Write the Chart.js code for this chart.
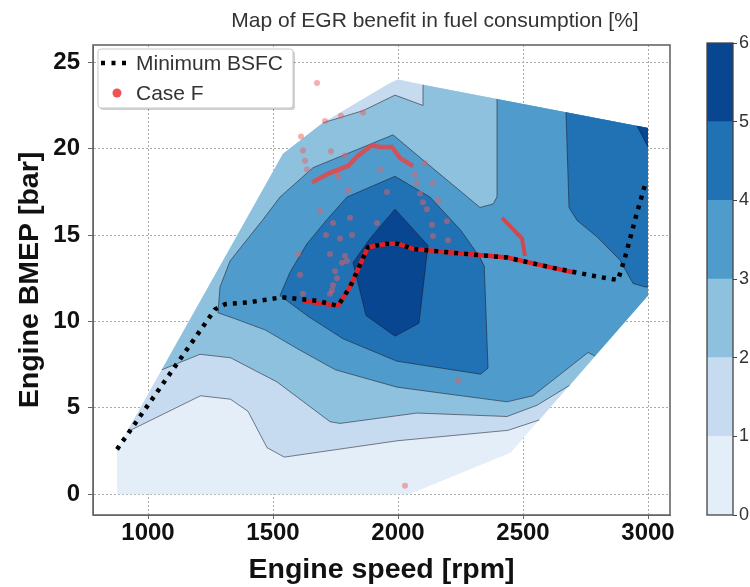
<!DOCTYPE html>
<html>
<head>
<meta charset="utf-8">
<script src="https://cdn.jsdelivr.net/npm/chart.js@4.4.1/dist/chart.umd.min.js"></script>
<style>
  body { margin: 0; background: #fff; }
  #wrap { position: relative; width: 750px; height: 587px; overflow: hidden; }
  #mapChart { position: absolute; left: 0; top: 0; }
  #cbarChart { position: absolute; left: 690px; top: 0; }
</style>
</head>
<body>
<div id="wrap">
  <canvas id="mapChart" width="690" height="587"></canvas>
  <canvas id="cbarChart" width="60" height="587"></canvas>
</div>
<script>
// Axis ticks
const speedTicks = [1000, 1500, 2000, 2500, 3000];
const bmepTicks = [0, 5, 10, 15, 20, 25];
const benefitLevels = [0, 1, 2, 3, 4, 5, 6];

// Outline of the mapped area, [rpm, bar]
const mapHull = [[876, 0], [876, 2.6], [1540, 19.7], [1700, 21.5], [1968, 23.8], [2000, 24.0],
  [2100, 23.7], [3000, 21.2], [3000, 11.5], [2450, 2.4], [2045, 0]];

// Contour boundaries, [rpm, bar]
const contour1 = [[915, 3.6], [1210, 5.7], [1330, 5.5], [1400, 4.8], [1476, 2.7], [1545, 2.15],
  [2000, 3.1], [2440, 3.7], [2565, 4.3]];
const contour2 = [[1055, 7.2], [1208, 8.1], [1330, 7.9], [1516, 6.5], [1728, 4.2], [1768, 4.1],
  [2076, 4.7], [2436, 4.5], [2556, 5.15], [2686, 6.3]];
const contour2Top = [[1700, 21.5], [1860, 22.2], [1988, 23.1], [2100, 22.5], [2100, 23.7]];
const contour3 = [[2396, 22.88], [2396, 17.2], [2380, 16.8], [2328, 16.6], [2116, 19.15], [1980, 20.8],
  [1660, 18.9], [1528, 17.2], [1460, 15.9], [1328, 13.5], [1288, 12.0], [1280, 10.5], [1340, 10.2],
  [1470, 9.5], [1600, 8.4], [1750, 7.2], [1996, 6.2], [2200, 5.8], [2436, 5.35], [2540, 5.7],
  [2760, 8.2], [2788, 8.0]];
const contour4Center = [[1528, 11.5], [1568, 12.85], [1636, 14.5], [1716, 15.9], [1796, 17.2],
  [1988, 18.4], [2128, 17.2], [2250, 15.3], [2328, 13.7], [2345, 13.2], [2360, 7.3], [2330, 6.95],
  [1996, 7.7], [1780, 9.0], [1640, 10.3]];
const contour4Right = [[2672, 22.11], [2684, 16.6], [2716, 15.85], [2796, 14.9], [2888, 13.55],
  [2940, 12.2], [2988, 12.0], [3000, 12.0]];
const contour5Center = [[1988, 16.5], [2120, 14.4], [2084, 9.9], [1988, 9.15], [1872, 10.35],
  [1820, 13.4], [1888, 14.8]];
const contour5Corner = [[2956, 21.32], [3000, 20.1]];

// Minimum BSFC line
const bsfcLine = [[876, 2.6], [1268, 10.7], [1308, 11.0], [1400, 11.1], [1536, 11.4], [1676, 11.2],
  [1760, 10.9], [1808, 12.0], [1880, 14.3], [1956, 14.5], [2000, 14.5], [2060, 14.2], [2200, 14.0],
  [2436, 13.7], [2620, 13.1], [2796, 12.6], [2880, 12.4], [2908, 13.7], [2956, 16.3], [2990, 18.0]];

// Case F operating points
const caseFAlongBsfc = [[1620, 11.2], [1760, 10.9], [1808, 12.0], [1880, 14.3], [1956, 14.5],
  [2000, 14.5], [2060, 14.2], [2200, 14.0], [2436, 13.7], [2620, 13.1], [2700, 12.85]];
const caseFUpperArc = [[1656, 18.05], [1728, 18.6], [1800, 19.0], [1840, 19.6], [1896, 20.2],
  [1928, 20.1], [1976, 20.1], [2008, 19.45], [2060, 19.0]];
const caseFRightArc = [[2416, 16.0], [2456, 15.4], [2496, 14.8], [2508, 13.8]];
const caseFPoints = [[1676, 23.8], [1708, 21.6], [1772, 21.9], [1860, 22.1], [1612, 20.7], [1620, 19.9],
  [1732, 19.85], [1628, 19.3], [1636, 18.8], [1760, 18.35], [1788, 19.6], [1928, 18.8], [2108, 19.15],
  [2068, 18.5], [2076, 18.0], [2088, 17.4], [2100, 16.9], [2116, 16.5], [2140, 18.0], [1800, 17.6],
  [1956, 17.5], [2160, 17.0], [1688, 16.4], [1808, 16.0], [1916, 15.7], [2136, 15.6], [2196, 15.8],
  [1712, 15.0], [1816, 15.0], [2140, 14.95], [2200, 14.7], [1740, 15.7], [1768, 14.8], [1600, 13.9],
  [1728, 13.9], [1788, 13.8], [1796, 13.5], [1748, 12.9], [1608, 12.7], [1756, 12.5], [1740, 12.1],
  [1736, 11.8], [1728, 11.6], [1620, 11.6], [1776, 13.4], [1756, 18.6], [2240, 6.6], [2028, 0.5]];

// Blues colormap, one colour per level band
const bandColors = ['#e3eef9', '#c6dbef', '#8dc1dd', '#4f9bcb', '#2171b5', '#084691'];

// Filled regions: everything at or above each level
const hullTopLeft = mapHull.slice(2, 9).reverse();
const regionsByBand = [
  [mapHull],
  [[...contour1, ...hullTopLeft]],
  [[...contour2, mapHull[8], mapHull[7], mapHull[6], ...contour2Top.slice().reverse(), mapHull[2]]],
  [[...contour3, mapHull[8], mapHull[7]]],
  [contour4Center, [...contour4Right, mapHull[7]]],
  [contour5Center, [...contour5Corner, mapHull[7]]]
];
const openContours = [contour1, contour2, contour2Top, contour3, contour4Right, contour5Corner];
const closedContours = [contour4Center, contour5Center];

const toXY = pts => pts.map(([x, y]) => ({ x, y }));
const FONT = '"Liberation Sans", Arial, sans-serif';

// Filled contour map drawn under the datasets
const contourFill = {
  id: 'contourFill',
  beforeDatasetsDraw(chart) {
    const { ctx, chartArea: a, scales: { x, y } } = chart;
    const trace = (pts, close) => {
      ctx.beginPath();
      pts.forEach(([r, b], i) => {
        const px = x.getPixelForValue(r), py = y.getPixelForValue(b);
        if (i) ctx.lineTo(px, py); else ctx.moveTo(px, py);
      });
      if (close) ctx.closePath();
    };
    ctx.save();
    ctx.beginPath();
    ctx.rect(a.left, a.top, a.right - a.left, a.bottom - a.top);
    ctx.clip();
    regionsByBand.forEach((polys, i) => {
      ctx.fillStyle = bandColors[i];
      polys.forEach(p => { trace(p, true); ctx.fill(); });
    });
    ctx.strokeStyle = 'rgba(25,25,35,0.6)';
    ctx.lineWidth = 0.9;
    openContours.forEach(l => { trace(l, false); ctx.stroke(); });
    closedContours.forEach(l => { trace(l, true); ctx.stroke(); });
    ctx.restore();
  }
};

// Box round the plotting area
const frame = {
  id: 'frame',
  afterDraw(chart, args, opts) {
    const { ctx, chartArea: a } = chart;
    ctx.save();
    ctx.strokeStyle = opts.color || '#666';
    ctx.lineWidth = opts.width || 1.5;
    ctx.strokeRect(a.left, a.top, a.right - a.left, a.bottom - a.top);
    ctx.restore();
  }
};

// Title and boxed legend in the upper left corner
const titleAndLegend = {
  id: 'titleAndLegend',
  afterDraw(chart) {
    const { ctx } = chart;
    ctx.save();
    ctx.font = '21px ' + FONT;
    ctx.fillStyle = '#333';
    ctx.textAlign = 'center';
    ctx.textBaseline = 'middle';
    ctx.fillText('Map of EGR benefit in fuel consumption [%]', 435, 21);

    // legend box with a soft shadow
    ctx.fillStyle = 'rgba(0,0,0,0.18)';
    ctx.beginPath(); ctx.roundRect(100, 51, 195, 59, 3); ctx.fill();
    ctx.fillStyle = '#fff';
    ctx.strokeStyle = '#c8c8c8';
    ctx.lineWidth = 1;
    ctx.beginPath(); ctx.roundRect(98, 49, 195, 59, 3); ctx.fill(); ctx.stroke();

    ctx.strokeStyle = '#000';
    ctx.lineWidth = 4.5;
    ctx.setLineDash([4, 6.5]);
    ctx.beginPath(); ctx.moveTo(101, 63); ctx.lineTo(132, 63); ctx.stroke();
    ctx.setLineDash([]);
    ctx.fillStyle = '#f05353';
    ctx.beginPath(); ctx.arc(117, 93, 4.5, 0, Math.PI * 2); ctx.fill();

    ctx.font = '21px ' + FONT;
    ctx.fillStyle = '#333';
    ctx.textAlign = 'left';
    ctx.fillText('Minimum BSFC', 136, 64);
    ctx.fillText('Case F', 136, 94);
    ctx.restore();
  }
};

new Chart(document.getElementById('mapChart'), {
  type: 'scatter',
  data: {
    datasets: [
      { label: 'Minimum BSFC', data: toXY(bsfcLine), showLine: true, borderColor: '#000',
        borderWidth: 4.5, borderDash: [4, 6], borderCapStyle: 'butt', pointRadius: 0, order: 0 },
      { label: 'Case F', data: toXY(caseFAlongBsfc), showLine: true, borderColor: 'rgba(240,30,30,0.95)',
        borderWidth: 4.5, pointRadius: 0, order: 1 },
      { label: 'Case F', data: toXY(caseFUpperArc), showLine: true, borderColor: 'rgba(228,70,70,0.85)',
        borderWidth: 4.5, pointRadius: 0, order: 1 },
      { label: 'Case F', data: toXY(caseFRightArc), showLine: true, borderColor: 'rgba(228,60,60,0.85)',
        borderWidth: 4, pointRadius: 0, order: 1 },
      { label: 'Case F', data: toXY(caseFPoints), backgroundColor: 'rgba(235,95,95,0.5)',
        borderWidth: 0, pointRadius: 3, order: 2 }
    ]
  },
  options: {
    responsive: false,
    animation: false,
    layout: { padding: { top: 45, right: 20, left: 0, bottom: 0 } },
    plugins: { legend: { display: false }, tooltip: { enabled: false }, frame: { color: '#666', width: 1.6 } },
    scales: {
      x: {
        type: 'linear', min: 780, max: 3088,
        afterBuildTicks: s => { s.ticks = speedTicks.map(v => ({ value: v })); },
        afterFit: s => { s.height = 72; },
        grid: { color: '#a8a8a8', lineWidth: 1, tickLength: 4, tickColor: '#666' },
        border: { dash: [2, 2], color: '#666' },
        ticks: { font: { family: FONT, size: 24, weight: 'bold' }, color: '#111', padding: 0,
          callback: v => String(v) },
        title: { display: true, text: 'Engine speed [rpm]', color: '#111',
          font: { family: FONT, size: 28.5, weight: 'bold' }, padding: { top: 0, bottom: 0 } }
      },
      y: {
        type: 'linear', min: -1.2, max: 26.0,
        afterBuildTicks: s => { s.ticks = bmepTicks.map(v => ({ value: v })); },
        afterFit: s => { s.width = 93; },
        grid: { color: '#a8a8a8', lineWidth: 1, tickLength: 5, tickColor: '#666' },
        border: { dash: [2, 2], color: '#666' },
        ticks: { font: { family: FONT, size: 24, weight: 'bold' }, color: '#111', padding: 8,
          callback: v => String(v) },
        title: { display: true, text: 'Engine BMEP [bar]', color: '#111',
          font: { family: FONT, size: 28.5, weight: 'bold' }, padding: { top: 13, bottom: 0 } }
      }
    }
  },
  plugins: [contourFill, frame, titleAndLegend]
});

// Colour bar: one stacked bar, one segment per level band
const bandSteps = benefitLevels.slice(1).map((v, i) => v - benefitLevels[i]);
new Chart(document.getElementById('cbarChart'), {
  type: 'bar',
  data: {
    labels: [''],
    datasets: bandSteps.map((d, i) => ({
      data: [d], backgroundColor: bandColors[i], borderWidth: 0,
      barPercentage: 1, categoryPercentage: 1
    }))
  },
  options: {
    responsive: false,
    animation: false,
    layout: { padding: { top: 43, left: 17, right: 0, bottom: 72 } },
    plugins: { legend: { display: false }, tooltip: { enabled: false }, frame: { color: '#444', width: 1.3 } },
    scales: {
      x: { stacked: true, display: false },
      y: {
        stacked: true, position: 'right', min: 0, max: 6,
        afterBuildTicks: s => { s.ticks = benefitLevels.map(v => ({ value: v })); },
        afterFit: s => { s.width = 17; },
        grid: { drawOnChartArea: false, tickLength: 4, color: '#444' },
        border: { display: false },
        ticks: { font: { family: FONT, size: 18 }, color: '#333', padding: 2 }
      }
    }
  },
  plugins: [frame]
});
</script>
</body>
</html>
